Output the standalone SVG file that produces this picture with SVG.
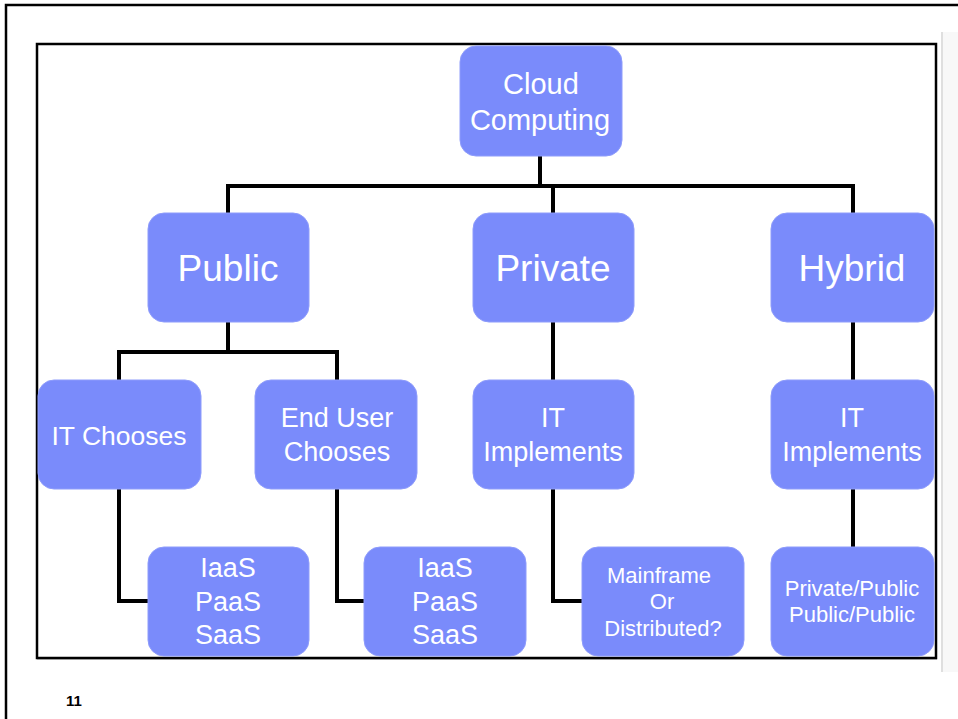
<svg xmlns="http://www.w3.org/2000/svg" width="958" height="719" viewBox="0 0 958 719">
  <style>
    .node rect { fill: #7a8bfb; stroke: #8e9cfb; stroke-width: 1; }
    .node text { fill: #ffffff; font-family: "Liberation Sans", Arial, sans-serif; text-anchor: middle; }
    .conn { fill: none; stroke: #000000; stroke-width: 4; stroke-linejoin: miter; stroke-linecap: butt; }
  </style>
  <rect x="0" y="0" width="958" height="719" fill="#ffffff"/>
  <!-- slide frame -->
  <path d="M 6 720 L 6 5 L 960 5" fill="none" stroke="#000" stroke-width="2.5"/>
  <!-- side panel -->
  <rect x="943" y="32" width="15" height="640" fill="#f8f8f8"/>
  <line x1="942" y1="32" x2="942" y2="672" stroke="#d4d4d4" stroke-width="1.5"/>
  <!-- chart frame -->
  <rect x="37" y="44" width="899" height="614" fill="none" stroke="#000" stroke-width="2.5"/>
  <line x1="37" y1="659.5" x2="937" y2="659.5" stroke="#9a9a9a" stroke-width="1"/>

  <g id="connectors">
    <path class="conn" d="M 540 156 V 186 M 228 213 V 186 H 853 V 213 M 553 186 V 213"/>
    <path class="conn" d="M 228 322 V 352 M 119 380 V 352 H 337 V 380"/>
    <path class="conn" d="M 119 489 V 601 H 148"/>
    <path class="conn" d="M 337 489 V 601 H 364"/>
    <path class="conn" d="M 553 322 V 380 M 553 489 V 601 H 582"/>
    <path class="conn" d="M 853 322 V 380 M 853 489 V 547"/>
  </g>

  <g id="cloud" class="node">
    <rect x="460" y="46" width="162" height="110" rx="16"/>
    <text x="541" y="94" font-size="29">Cloud</text>
    <text x="540" y="130" font-size="29">Computing</text>
  </g>
  <g id="public" class="node">
    <rect x="148" y="213" width="161" height="109" rx="16"/>
    <text x="228" y="281" font-size="37">Public</text>
  </g>
  <g id="private" class="node">
    <rect x="473" y="213" width="161" height="109" rx="16"/>
    <text x="553" y="281" font-size="37">Private</text>
  </g>
  <g id="hybrid" class="node">
    <rect x="771" y="213" width="163" height="109" rx="16"/>
    <text x="852" y="281" font-size="37">Hybrid</text>
  </g>
  <g id="it-chooses" class="node">
    <rect x="38" y="380" width="163" height="109" rx="16"/>
    <text x="119" y="445" font-size="26.5">IT Chooses</text>
  </g>
  <g id="end-user-chooses" class="node">
    <rect x="255" y="380" width="162" height="109" rx="16"/>
    <text x="337" y="427" font-size="27">End User</text>
    <text x="337" y="461" font-size="27">Chooses</text>
  </g>
  <g id="private-it" class="node">
    <rect x="473" y="380" width="161" height="109" rx="16"/>
    <text x="553" y="427" font-size="27">IT</text>
    <text x="553" y="461" font-size="27">Implements</text>
  </g>
  <g id="hybrid-it" class="node">
    <rect x="771" y="380" width="163" height="109" rx="16"/>
    <text x="852" y="427" font-size="27">IT</text>
    <text x="852" y="461" font-size="27">Implements</text>
  </g>
  <g id="it-services" class="node">
    <rect x="148" y="547" width="161" height="109" rx="16"/>
    <text x="228" y="577" font-size="27">IaaS</text>
    <text x="228" y="611" font-size="27">PaaS</text>
    <text x="228" y="644" font-size="27">SaaS</text>
  </g>
  <g id="user-services" class="node">
    <rect x="364" y="547" width="162" height="109" rx="16"/>
    <text x="445" y="577" font-size="27">IaaS</text>
    <text x="445" y="611" font-size="27">PaaS</text>
    <text x="445" y="644" font-size="27">SaaS</text>
  </g>
  <g id="mainframe" class="node">
    <rect x="582" y="547" width="162" height="109" rx="16"/>
    <text x="659" y="583" font-size="22">Mainframe</text>
    <text x="662" y="609" font-size="22">Or</text>
    <text x="663" y="636" font-size="22">Distributed?</text>
  </g>
  <g id="mix" class="node">
    <rect x="771" y="547" width="163" height="109" rx="16"/>
    <text x="852" y="596" font-size="22">Private/Public</text>
    <text x="852" y="622" font-size="22">Public/Public</text>
  </g>

  <text x="66" y="706" font-family="Liberation Sans, Arial, sans-serif" font-size="15" font-weight="bold" fill="#000">11</text>
</svg>
